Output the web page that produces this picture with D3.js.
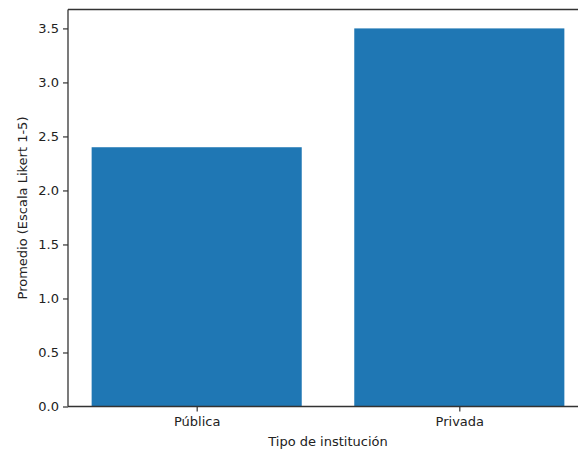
<!DOCTYPE html>
<html><head><meta charset="utf-8">
<script src="https://cdn.jsdelivr.net/npm/d3@7"></script>
<style>body{margin:0;background:#fff;overflow:hidden}svg{display:block;overflow:hidden}text{font-family:"DejaVu Sans",sans-serif}</style>
</head><body>
<script>
const categories = ["Pública", "Privada"];
const values = [2.4, 3.5];
const yTicks = [0, 0.5, 1.0, 1.5, 2.0, 2.5, 3.0, 3.5];
const xLabel = "Tipo de institución";
const yLabel = "Promedio (Escala Likert 1-5)";

const W = 578, H = 453;
const m = {left: 68, top: 9.5, right: 588, bottom: 406.5};
const svg = d3.select("body").append("svg").attr("width", W).attr("height", H);

const x = d3.scaleLinear().domain([-0.49, 1.49]).range([m.left, m.right]);
const y = d3.scaleLinear().domain([0, 3.675]).range([m.bottom, m.top]);

svg.selectAll("rect.bar").data(values).join("rect")
  .attr("class", "bar")
  .attr("x", (d, i) => x(i - 0.4))
  .attr("width", (d, i) => x(i + 0.4) - x(i - 0.4))
  .attr("y", d => y(d))
  .attr("height", d => y(0) - y(d))
  .attr("fill", "#1f77b4");

const yAxis = svg.append("g").attr("transform", `translate(${m.left},0)`)
  .call(d3.axisLeft(y).tickValues(yTicks).tickFormat(d3.format(".1f")).tickSize(5).tickPadding(4));
const xAxis = svg.append("g").attr("transform", `translate(0,${m.bottom})`)
  .call(d3.axisBottom(x).tickValues([0, 1]).tickFormat(i => categories[i]).tickSize(5).tickPadding(5));
[yAxis, xAxis].forEach(g => {
  g.select(".domain").remove();
  g.selectAll("line").attr("stroke", "#333").attr("stroke-width", 1.2);
  g.selectAll("text").attr("fill", "#222").style("font-size", "13px").style("font-family", "DejaVu Sans");
});

// spines (right spine falls outside the visible area)
const sp = svg.append("g").attr("stroke", "#333").attr("stroke-width", 1.3).attr("fill", "none");
sp.append("line").attr("x1", m.left).attr("x2", m.left).attr("y1", m.top).attr("y2", m.bottom);
sp.append("line").attr("x1", m.left).attr("x2", W).attr("y1", m.top).attr("y2", m.top);
sp.append("line").attr("x1", m.left).attr("x2", W).attr("y1", m.bottom).attr("y2", m.bottom);

svg.append("text").attr("x", (m.left + m.right) / 2).attr("y", 446)
  .attr("text-anchor", "middle").attr("fill", "#222").style("font-size", "13px").text(xLabel);
svg.append("text").attr("transform", `translate(27,${(m.top + m.bottom) / 2}) rotate(-90)`)
  .attr("text-anchor", "middle").attr("fill", "#222").style("font-size", "13px").text(yLabel);
</script>
</body></html>
